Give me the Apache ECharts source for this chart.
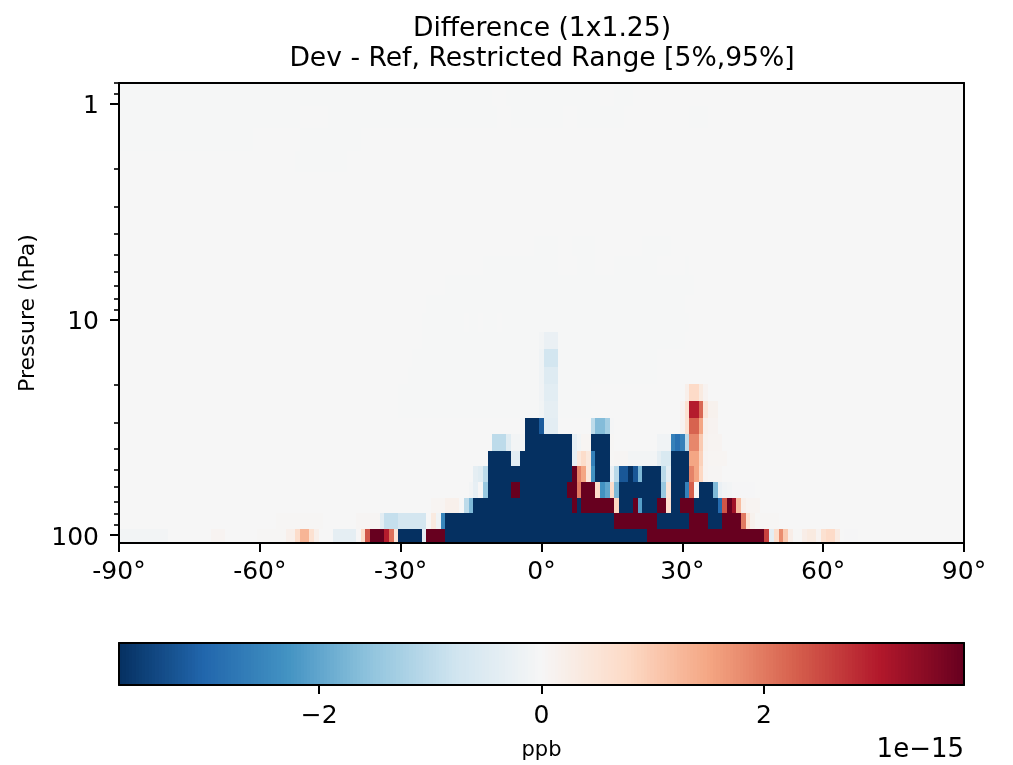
<!DOCTYPE html>
<html>
<head>
<meta charset="utf-8">
<style>html,body{margin:0;padding:0;background:#fff}#c{width:1013px;height:765px}</style>
<script src="https://cdn.jsdelivr.net/npm/echarts@6/dist/echarts.min.js"></script>
</head>
<body>
<div id="c"></div>
<script>
// Pressure edges of the plotted levels, bottom to top (hPa)
const pressureEdges = [108.9,93.8,79.1,67.4,56.8,47.9,40.8,34.0,28.7,23.9,19.96,16.65,13.74,11.46,9.35,7.72,6.24,5.09,4.11,3.29,2.60,2.08,1.66,1.30,1.027,0.8];
const latStart = -90, latEnd = 90;
const yMajorTicks = [1,10,100];
const yMinorTicks = [0.8,0.9,2,3,4,5,6,7,8,9,20,30,40,50,60,70,80,90];
const colorbarTicks = [-2,0,2];
const valueLimit = 3.8;
const rdBuStops = ['#053061','#2166ac','#4393c3','#92c5de','#d1e5f0','#f6f6f6','#fddbc7','#f4a582','#d6604d','#b2182b','#67001f'];

// Each level: runs of [fromLat, toLat, value in 1e-15 ppb]; later runs override earlier ones
const level00 = [[-90,-80,-0.08],[-70,-68,0.08],[-60,-55,0.03],[-54,-53,0.2],[-52,-52,0.7],[-51,-50,1.3],[-49,-49,0.6],[-48,-48,0.2],[-44,-40,-0.35],[-39,-39,0.02],[-38,-38,0.7],[-37,-37,2.4],[-36,-34,3.8],[-33,-33,3.0],[-32,-32,2.1],[-31,-31,0.5],[-30,-26,-3.8],[-25,-25,-0.4],[-24,-21,3.8],[-20,22,-3.8],[23,47,3.8],[48,48,2.6],[49,49,-0.4],[50,50,0.7],[51,51,1.8],[52,52,1.0],[53,53,0.25],[54,55,0.03],[56,56,0.25],[57,58,0.35],[59,59,0.1],[60,60,0.6],[61,62,0.75],[63,63,0.3],[65,67,-0.03]];
const level01 = [[-56,-47,0.04],[-39,-35,0.05],[-34,-34,-0.4],[-33,-31,-0.9],[-30,-25,-0.7],[-24,-24,0],[-23,-23,0.35],[-22,-22,-0.15],[-21,-21,-2.5],[-20,15,-3.8],[16,24,3.8],[25,31,-3.8],[32,35,3.8],[36,38,-3.8],[39,42,3.8],[43,43,2.0],[44,44,0.6],[45,45,0.15],[46,50,0.03]];
const level02 = [[-23,-21,0.06],[-20,-18,0.17],[-17,-17,0],[-16,-16,-1.0],[-15,-15,-1.7],[-14,6,-3.8],[7,7,3.8],[8,8,-3.8],[9,15,3.8],[16,16,0.8],[17,19,-3.8],[20,20,3.8],[21,21,-2.1],[22,24,-3.8],[25,26,3.8],[27,27,0.6],[28,29,-3.8],[30,32,3.8],[33,37,-3.8],[38,38,-2.95],[39,39,2.4],[40,40,3.8],[41,41,3.2],[42,42,1.2],[43,43,0.2],[44,46,0.08]];
const level03 = [[-15,-15,-0.08],[-14,-14,-0.3],[-13,-13,0.02],[-12,-12,-1.45],[-11,-7,-3.8],[-6,-5,3.8],[-4,5,-3.8],[6,7,3.8],[8,8,2.0],[9,11,3.8],[12,12,0.7],[13,13,-2.3],[14,14,-2.0],[15,15,0.7],[16,16,-1.7],[17,25,-3.8],[26,26,-1.45],[27,27,0.45],[28,30,-3.8],[31,31,-2.6],[32,32,2.3],[33,33,0.02],[34,36,-3.8],[37,37,-1.7],[38,38,-0.25],[39,39,-0.12],[40,40,-0.08],[41,45,-0.03]];
const level04 = [[-14,-14,-0.35],[-13,-13,-0.45],[-12,-12,-1.0],[-11,6,-3.8],[7,7,3.8],[8,8,1.9],[9,9,1.5],[10,10,0.4],[11,11,-2.3],[12,14,-3.8],[15,15,-0.25],[16,16,-1.05],[17,18,-3.25],[19,19,-3.8],[20,20,-3.25],[21,21,-1.7],[22,25,-3.8],[26,26,-1.05],[27,27,-0.4],[28,31,-3.8],[32,32,1.9],[33,33,1.5],[34,34,0.8],[35,35,0.1],[36,38,0.05]];
const level05 = [[-11,-7,-3.8],[-6,-5,-0.4],[-4,6,-3.8],[7,7,-0.3],[8,8,0.4],[9,9,0.7],[10,10,0.4],[11,11,-2.6],[12,14,-3.8],[15,15,0.03],[16,18,0.05],[19,24,-0.08],[25,25,-0.35],[26,27,-0.6],[28,31,-3.8],[32,33,1.5],[34,34,0.9],[35,35,0.1],[36,39,0.06]];
const level06 = [[-10,-8,-1.0],[-7,-7,-0.45],[-6,-4,-0.08],[-3,6,-3.8],[7,7,-0.3],[8,8,-0.1],[9,10,0.07],[11,14,-3.8],[15,15,0.03],[25,27,-0.12],[28,28,-2.6],[29,29,-2.85],[30,30,-2.6],[31,31,-1.0],[32,33,1.85],[34,34,1.0],[35,35,0.15],[36,38,0.08]];
const level07 = [[-4,-4,-0.05],[-3,-1,-3.8],[0,0,-3.2],[1,3,-0.4],[11,11,-1.0],[12,13,-1.65],[14,14,-1.3],[15,15,-0.05],[30,30,0.1],[31,31,0.6],[32,33,2.25],[34,34,1.5],[35,35,0.2],[36,37,0.1]];
const level08 = [[-30,-1,-0.02],[0,0,-0.1],[1,3,-0.35],[4,10,-0.02],[30,30,0.1],[31,31,0.6],[32,33,3.0],[34,34,2.2],[35,35,0.5],[36,37,0.15]];
const level09 = [[-30,-1,-0.02],[0,0,-0.12],[1,3,-0.42],[4,10,-0.02],[31,31,0.2],[32,33,0.75],[34,34,0.35],[35,35,0.1]];
const level10 = [[-28,-1,-0.02],[0,0,-0.15],[1,3,-0.5],[4,24,-0.02]];
const level11 = [[-27,-1,-0.02],[0,0,-0.15],[1,3,-0.72],[4,24,-0.02]];
const level12 = [[-25,-1,-0.02],[0,0,-0.08],[1,3,-0.25],[4,30,-0.02]];
const level13 = [[-25,-17,-0.02],[-15,-14,-0.02],[-12,-10,-0.02],[-8,31,-0.02]];
const level14 = [[-24,30,-0.02]];
const level15 = [[-20,32,-0.02]];
const level16 = [[-12,3,-0.02],[8,11,-0.02],[16,24,-0.02],[31,31,-0.02]];
const level17 = [[-1,3,-0.02],[7,11,-0.02],[22,27,-0.02]];
const level18 = [];
const level19 = [];
const level20 = [];
const level21 = [[-52,-42,-0.02]];
const level22 = [[-90,-62,-0.02],[-51,-39,-0.02]];
const level23 = [[-90,-52,-0.02],[-45,-10,-0.02],[-6,4,-0.02],[8,17,-0.02],[32,35,-0.02]];
const level24 = [[-90,-11,-0.02],[-7,12,-0.02],[16,19,-0.02]];

const levels = [level00,level01,level02,level03,level04,level05,level06,level07,level08,level09,level10,level11,level12,level13,level14,level15,level16,level17,level18,level19,level20,level21,level22,level23,level24];

function hex(c){return [1,3,5].map(i=>parseInt(c.substr(i,2),16));}
const stopRgb = rdBuStops.map(hex);
function colorOf(v){
  const t = Math.max(0,Math.min(1,(v+valueLimit)/(2*valueLimit)))*(stopRgb.length-1);
  const i = Math.min(stopRgb.length-2,Math.floor(t)), f = t-i;
  const c = stopRgb[i].map((a,k)=>Math.round(a+(stopRgb[i+1][k]-a)*f));
  return 'rgb('+c.join(',')+')';
}

const cellData = [];
levels.forEach((runs,r)=>{
  const row = {};
  for(let lat=latStart;lat<=latEnd;lat++) row[lat]=0;
  runs.forEach(([a,b,v])=>{for(let lat=a;lat<=b;lat++) row[lat]=v;});
  for(let lat=latStart;lat<=latEnd;lat++) cellData.push([lat,pressureEdges[r],pressureEdges[r+1],row[lat]]);
});
const barSteps = [];
for(let i=0;i<256;i++) barSteps.push([-valueLimit+2*valueLimit*i/256,-valueLimit+2*valueLimit*(i+1)/256]);

function renderCell(params,api){
  const g = params.coordSys;
  const p0 = api.coord([api.value(0)-0.5,api.value(1)]);
  const p1 = api.coord([api.value(0)+0.5,api.value(2)]);
  const x0 = Math.round(Math.max(g.x,Math.min(p0[0],p1[0])));
  const x1 = Math.round(Math.min(g.x+g.width,Math.max(p0[0],p1[0])));
  const y0 = Math.round(Math.max(g.y,Math.min(p0[1],p1[1])));
  const y1 = Math.round(Math.min(g.y+g.height,Math.max(p0[1],p1[1])));
  return {type:'rect',shape:{x:x0,y:y0,width:x1-x0,height:y1-y0},style:{fill:colorOf(api.value(3))}};
}
function renderBar(params,api){
  const g = params.coordSys;
  const x0 = Math.round(api.coord([api.value(0),0])[0]);
  const x1 = Math.round(api.coord([api.value(1),0])[0]);
  return {type:'rect',shape:{x:x0,y:g.y,width:x1-x0,height:g.height},style:{fill:colorOf((api.value(0)+api.value(1))/2)}};
}

const FONT = 'DejaVu Sans';
const spine = {show:true,onZero:false,lineStyle:{color:'#000',width:2}};
const chart = echarts.init(document.getElementById('c'),null,{renderer:'canvas'});
const yLog = {type:'log',logBase:10,min:0.8,max:108.9,inverse:true,gridIndex:0,splitLine:{show:false},z:10};
chart.setOption({
  animation:false,
  backgroundColor:'#fff',
  textStyle:{fontFamily:FONT},
  title:{text:'Difference (1x1.25)\nDev - Ref, Restricted Range [5%,95%]',left:537,top:9,textAlign:'center',
    textStyle:{fontFamily:FONT,fontSize:26.6,fontWeight:'normal',color:'#000',lineHeight:30}},
  graphic:[{type:'text',right:49,top:737,style:{text:'1e\u221215',font:'26px "DejaVu Sans"',fill:'#000',textAlign:'right'}}],
  grid:[{left:119,top:83,width:845,height:460},{left:119,top:643,width:845,height:42}],
  xAxis:[
    {type:'value',gridIndex:0,position:'bottom',min:-90,max:90,interval:30,z:10,splitLine:{show:false},axisLine:spine,
      axisTick:{show:true,length:9,lineStyle:{color:'#000',width:2}},
      axisLabel:{fontSize:25,color:'#000',margin:17,fontFamily:FONT,formatter:v=>v+'\u00b0',showMinLabel:true,showMaxLabel:true}},
    {type:'value',gridIndex:0,position:'top',min:-90,max:90,z:10,splitLine:{show:false},axisLine:spine,axisTick:{show:false},axisLabel:{show:false}},
    {type:'value',gridIndex:1,position:'bottom',min:-valueLimit,max:valueLimit,z:10,splitLine:{show:false},axisLine:spine,
      axisTick:{show:true,length:9,lineStyle:{color:'#000',width:2},customValues:colorbarTicks},
      axisLabel:{fontSize:25,color:'#000',margin:19,fontFamily:FONT,customValues:colorbarTicks,formatter:v=>String(v).replace('-','\u2212')},
      name:'ppb',nameLocation:'middle',nameGap:55,nameTextStyle:{fontSize:21,color:'#000',fontFamily:FONT}},
    {type:'value',gridIndex:1,position:'top',min:-valueLimit,max:valueLimit,z:10,splitLine:{show:false},axisLine:spine,axisTick:{show:false},axisLabel:{show:false}}
  ],
  yAxis:[
    Object.assign({},yLog,{position:'left',axisLine:spine,
      axisTick:{show:true,length:9,lineStyle:{color:'#000',width:2},customValues:yMajorTicks},
      axisLabel:{color:'#000',margin:20,customValues:yMajorTicks,formatter:v=>'{a|'+v+'}',
        rich:{a:{fontSize:25,fontFamily:FONT,color:'#000',lineHeight:30,padding:[6,0,0,0]}}},
      name:'Pressure (hPa)',nameLocation:'middle',nameGap:80,nameTextStyle:{fontSize:22,color:'#000',fontFamily:FONT}}),
    Object.assign({},yLog,{position:'left',axisLine:{show:false,onZero:false},
      axisTick:{show:true,length:5,lineStyle:{color:'#000',width:1.6},customValues:yMinorTicks},
      axisLabel:{show:false}}),
    Object.assign({},yLog,{position:'right',axisLine:spine,axisTick:{show:false},axisLabel:{show:false}}),
    {type:'value',gridIndex:1,position:'left',min:0,max:1,z:10,splitLine:{show:false},axisLine:spine,axisTick:{show:false},axisLabel:{show:false}},
    {type:'value',gridIndex:1,position:'right',min:0,max:1,z:10,splitLine:{show:false},axisLine:spine,axisTick:{show:false},axisLabel:{show:false}}
  ],
  series:[
    {type:'custom',xAxisIndex:0,yAxisIndex:0,data:cellData,renderItem:renderCell,encode:{x:0,y:[1,2]},silent:true,progressive:0,clip:true},
    {type:'custom',xAxisIndex:2,yAxisIndex:3,data:barSteps,renderItem:renderBar,encode:{x:[0,1]},silent:true,progressive:0}
  ]
});
</script>
</body>
</html>
